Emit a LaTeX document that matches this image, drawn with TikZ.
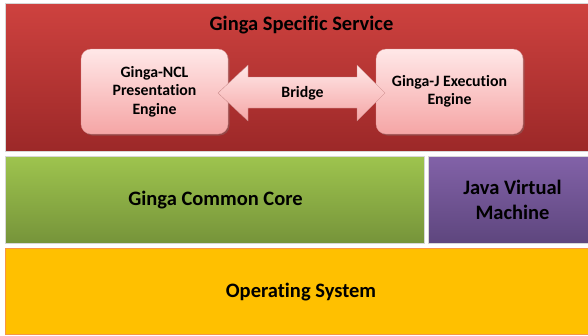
\documentclass[tikz,border=0pt]{standalone}
\usepackage{fontspec}
\setmainfont{Carlito}[Ligatures=NoCommon]
\usetikzlibrary{shadows}
\definecolor{redtop}{RGB}{206,66,63}
\definecolor{redbot}{RGB}{156,40,40}
\definecolor{pinktop}{RGB}{255,232,232}
\definecolor{pinkbot}{RGB}{245,165,165}
\definecolor{greentop}{RGB}{158,196,78}
\definecolor{greenbot}{RGB}{118,148,58}
\definecolor{purptop}{RGB}{130,98,168}
\definecolor{purpbot}{RGB}{94,70,126}
\definecolor{osfill}{RGB}{255,192,0}
\definecolor{osedge}{RGB}{247,150,70}
\definecolor{edgegray}{RGB}{215,215,215}
\tikzset{
  layer/.style={draw=edgegray, line width=0.8pt},
  layertext/.style={font=\bfseries\fontsize{20.5}{25}\selectfont, align=center},
  engine/.style={rounded corners=10pt, top color=pinktop, bottom color=pinkbot, draw=pinkbot!90!black, line width=0.3pt,
    font=\bfseries\fontsize{15.8}{18.5}\selectfont, align=center, drop shadow={opacity=0.35, shadow xshift=1.5pt, shadow yshift=-1.5pt}},
  bridgearrow/.style={top color=pinktop, bottom color=pinkbot, draw=pinkbot!80!black, line width=0.3pt}
}
\begin{document}
\begin{tikzpicture}[x=1pt,y=-1pt]
\useasboundingbox (0,0) rectangle (588,335);
\fill[white] (0,0) rectangle (588,335);
% layers
\draw[layer, top color=redtop, bottom color=redbot] (5,3) rectangle (590,151);
\node[layertext] (title) at (301.5,25) {Ginga Specific Service};
\draw[layer, top color=greentop, bottom color=greenbot] (5.5,156) rectangle (424.5,243);
\node[layertext] (core) at (215.5,200) {Ginga Common Core};
\draw[layer, top color=purptop, bottom color=purpbot] (428.5,156) rectangle (590,243);
\node[layertext] (jvm) at (512.5,199.5) {Java Virtual\\Machine};
\draw[draw=osedge, line width=0.8pt, fill=osfill] (5.5,248.5) rectangle (590,334);
\node[layertext] (os) at (301,292) {Operating System};
% engines
\node[engine, minimum width=147pt, minimum height=85pt] (ncl) at (154.5,91.5) {Ginga-NCL\\Presentation\\Engine};
\node[engine, minimum width=147pt, minimum height=85pt] (gj) at (449.5,91.5) {Ginga-J Execution\\Engine};
% bridge arrow
\path[bridgearrow] (218,93) -- (248,65) -- (248,77) -- (357,77) -- (357,65) -- (385,93) -- (357,121) -- (357,108) -- (248,108) -- (248,121) -- cycle;
\node[font=\bfseries\fontsize{15.8}{18}\selectfont] (bridge) at (302.5,93) {Bridge};
\end{tikzpicture}
\end{document}
